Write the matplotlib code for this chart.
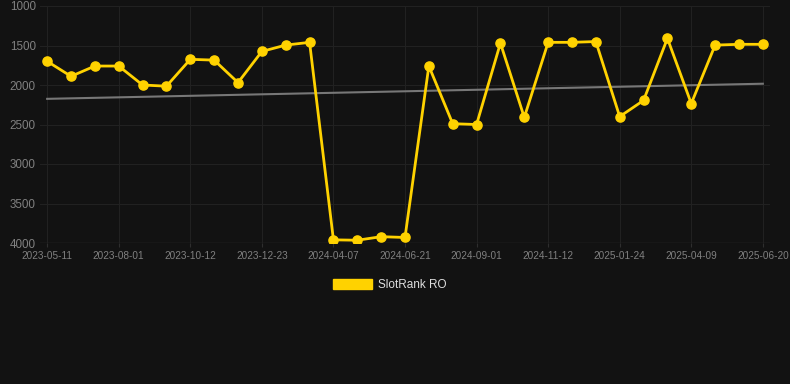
import numpy as np
import matplotlib
matplotlib.use("Agg")
import matplotlib.pyplot as plt
from matplotlib.patches import Patch

plt.rcParams['font.family'] = ['Liberation Sans', 'DejaVu Sans']

tick_labels = ["2023-05-11", "2023-08-01", "2023-10-12", "2023-12-23", "2024-04-07",
               "2024-06-21", "2024-09-01", "2024-11-12", "2025-01-24", "2025-04-09",
               "2025-06-20"]
rank = [1700, 1890, 1760, 1760, 2000, 2015, 1675, 1685, 1970, 1575, 1495, 1460,
        3960, 3965, 3920, 3930, 1760, 2490, 2500, 1470, 2410, 1460, 1460, 1450,
        2400, 2195, 1410, 2235, 1495, 1485, 1485]
series_name = "SlotRank RO"

bg = "#121212"
yellow = "#ffd200"

x = np.arange(len(rank))
coef = np.polyfit(x, rank, 1)
trend = np.polyval(coef, x)

fig = plt.figure(figsize=(7.9, 3.84), dpi=100, facecolor=bg)
ax = fig.add_axes([40/790, 1-243/384, 730/790, 237/384], facecolor=bg)

ax.plot(x, trend, color="#777777", lw=1.5, zorder=2)
ax.plot(x, rank, color=yellow, lw=2.0, marker="o", ms=6.6, zorder=3)

ax.set_ylim(4000, 1000)
ax.set_xlim(-0.3, 30.3)
ax.set_yticks([1000, 1500, 2000, 2500, 3000, 3500, 4000])
ax.set_xticks(x[::3])
ax.set_xticklabels(tick_labels)
ax.grid(True, color="#212121", lw=0.8)
for s in ax.spines.values():
    s.set_visible(False)
ax.axhline(4000, color="#2e2e2e", lw=1, zorder=1)
ax.tick_params(axis="y", colors="#808080", labelsize=8.4, length=0, pad=3)
ax.tick_params(axis="x", colors="#808080", labelsize=7.2, length=3, pad=3, color="#2e2e2e")

fig.legend(handles=[Patch(facecolor=yellow, edgecolor=yellow, label=series_name)],
           loc="center", bbox_to_anchor=(0.5 - 5/790, 1-285/384), frameon=False,
           labelcolor="#dddddd", fontsize=8.5, handlelength=3.3, handleheight=1.0,
           handletextpad=0.5)

fig.savefig("out.png", dpi=100, facecolor=bg)
